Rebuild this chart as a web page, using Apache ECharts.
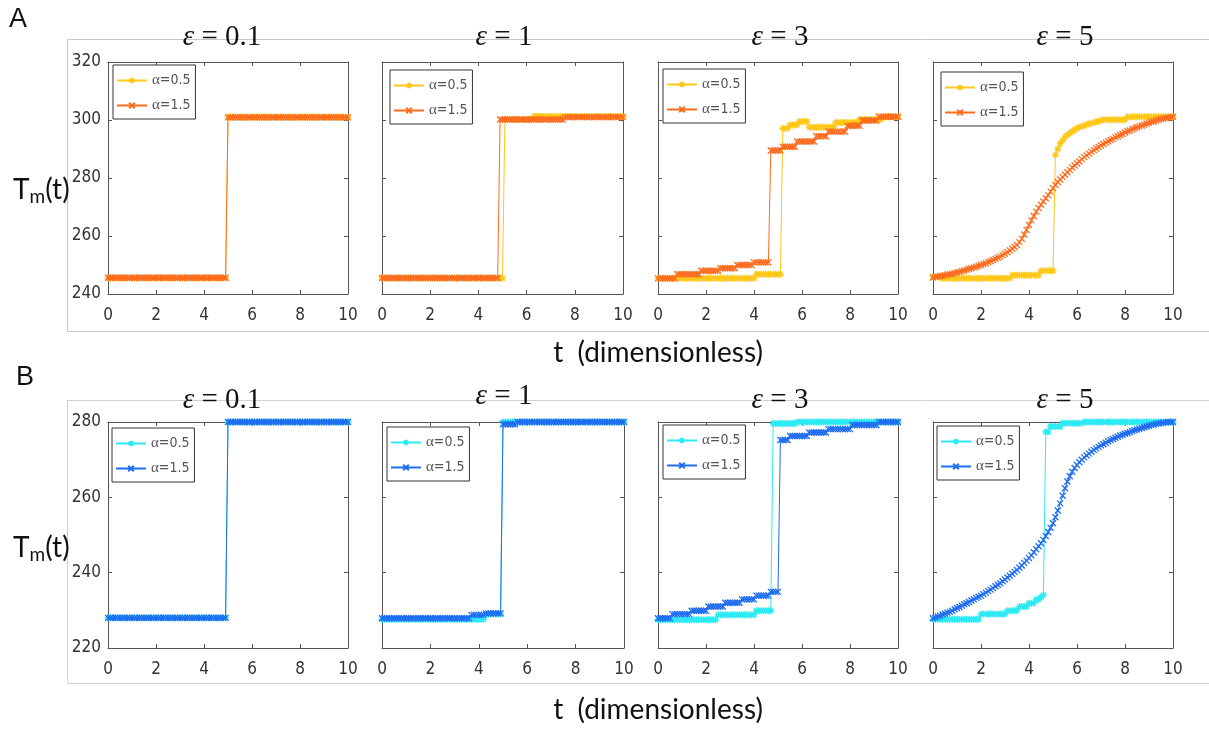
<!DOCTYPE html>
<html><head><meta charset="utf-8">
<script src="https://cdn.jsdelivr.net/npm/echarts@6/dist/echarts.min.js"></script>
<style>html,body{margin:0;padding:0;background:#fff}#c{width:1209px;height:730px}</style>
</head><body><div id="c"></div>
<script>
// time samples (dimensionless t)
const t = [
0,0.1,0.2,0.3,0.4,0.5,0.6,0.7,0.8,0.9,
1,1.1,1.2,1.3,1.4,1.5,1.6,1.7,1.8,1.9,
2,2.1,2.2,2.3,2.4,2.5,2.6,2.7,2.8,2.9,
3,3.1,3.2,3.3,3.4,3.5,3.6,3.7,3.8,3.9,
4,4.1,4.2,4.3,4.4,4.5,4.6,4.7,4.8,4.9,
5,5.1,5.2,5.3,5.4,5.5,5.6,5.7,5.8,5.9,
6,6.1,6.2,6.3,6.4,6.5,6.6,6.7,6.8,6.9,
7,7.1,7.2,7.3,7.4,7.5,7.6,7.7,7.8,7.9,
8,8.1,8.2,8.3,8.4,8.5,8.6,8.7,8.8,8.9,
9,9.1,9.2,9.3,9.4,9.5,9.6,9.7,9.8,9.9,
10];

const epsilons = ['0.1','1','3','5'];
const alphas = ['0.5','1.5'];
const xTicks = [0,2,4,6,8,10];
const yTicksA = [240,260,280,300,320];
const yTicksB = [220,240,260,280];

// ---------- Row A ----------
const A1_a05 = [
245.5,245.5,245.5,245.5,245.5,245.5,245.5,245.5,245.5,245.5,
245.5,245.5,245.5,245.5,245.5,245.5,245.5,245.5,245.5,245.5,
245.5,245.5,245.5,245.5,245.5,245.5,245.5,245.5,245.5,245.5,
245.5,245.5,245.5,245.5,245.5,245.5,245.5,245.5,245.5,245.5,
245.5,245.5,245.5,245.5,245.5,245.5,245.5,245.5,245.5,245.5,
301,301,301,301,301,301,301,301,301,301,
301,301,301,301,301,301,301,301,301,301,
301,301,301,301,301,301,301,301,301,301,
301,301,301,301,301,301,301,301,301,301,
301,301,301,301,301,301,301,301,301,301,
301];
const A1_a15 = [
245.6,245.6,245.6,245.6,245.6,245.6,245.6,245.6,245.6,245.6,
245.6,245.6,245.6,245.6,245.6,245.6,245.6,245.6,245.6,245.6,
245.6,245.6,245.6,245.6,245.6,245.6,245.6,245.6,245.6,245.6,
245.6,245.6,245.6,245.6,245.6,245.6,245.6,245.6,245.6,245.6,
245.6,245.6,245.6,245.6,245.6,245.6,245.6,245.6,245.6,245.6,
300.9,300.9,300.9,300.9,300.9,300.9,300.9,300.9,300.9,300.9,
300.9,300.9,300.9,300.9,300.9,300.9,300.9,300.9,300.9,300.9,
300.9,300.9,300.9,300.9,300.9,300.9,300.9,300.9,300.9,300.9,
300.9,300.9,300.9,300.9,300.9,300.9,300.9,300.9,300.9,300.9,
300.9,300.9,300.9,300.9,300.9,300.9,300.9,300.9,300.9,300.9,
300.9];
const A2_a05 = [
245.5,245.5,245.5,245.5,245.5,245.5,245.5,245.5,245.5,245.5,
245.5,245.5,245.5,245.5,245.5,245.5,245.5,245.5,245.5,245.5,
245.5,245.5,245.5,245.5,245.5,245.5,245.5,245.5,245.5,245.5,
245.5,245.5,245.5,245.5,245.5,245.5,245.5,245.5,245.5,245.5,
245.5,245.5,245.5,245.5,245.5,245.5,245.5,245.5,245.5,245.5,
245.5,300.2,300.2,300.2,300.2,300.2,300.2,300.2,300.2,300.2,
300.2,300.2,300.2,301.2,301.2,301.2,301.2,301.2,301.2,301.2,
301.2,301.2,301.2,301.2,301.2,301.2,301.2,301.2,301.2,301.2,
301.2,301.2,301.2,301.2,301.2,301.2,301.2,301.2,301.2,301.2,
301.2,301.2,301.2,301.2,301.2,301.2,301.2,301.2,301.2,301.2,
301.2];
const A2_a15 = [
245.5,245.5,245.5,245.5,245.5,245.5,245.5,245.5,245.5,245.5,
245.5,245.5,245.5,245.5,245.5,245.5,245.5,245.5,245.5,245.5,
245.5,245.5,245.5,245.5,245.5,245.5,245.5,245.5,245.5,245.5,
245.5,245.5,245.5,245.5,245.5,245.5,245.5,245.5,245.5,245.5,
245.5,245.5,245.5,245.5,245.5,245.5,245.5,245.5,245.5,300.2,
300.2,300.2,300.2,300.2,300.2,300.2,300.2,300.2,300.2,300.2,
300.2,300.2,300.2,300.2,300.2,300.2,300.2,300.2,300.2,300.2,
300.2,300.2,300.2,300.2,300.2,300.2,301.0,301.0,301.0,301.0,
301.0,301.0,301.0,301.0,301.0,301.0,301.0,301.0,301.0,301.0,
301.0,301.0,301.0,301.0,301.0,301.0,301.0,301.0,301.0,301.0,
301.0];
const A3_a05 = [
245.4,245.4,245.4,245.4,245.4,245.4,245.4,245.4,245.4,245.4,
245.4,245.4,245.4,245.4,245.4,245.4,245.4,245.4,245.4,245.4,
245.4,245.4,245.4,245.4,245.4,245.4,245.4,245.4,245.4,245.4,
245.4,245.4,245.4,245.4,245.4,245.4,245.4,245.4,245.4,245.4,
245.4,246.8,246.8,246.8,246.8,246.8,246.8,246.8,246.8,246.8,
246.8,246.8,297.1,297.1,297.1,298.3,298.3,298.3,298.3,299.5,
299.5,299.5,299.5,297.5,297.5,297.5,297.5,297.5,297.5,297.5,
297.5,297.5,297.5,297.5,299.1,299.1,299.1,299.1,299.1,299.1,
299.1,299.1,299.1,299.1,300.2,300.2,300.2,300.2,300.2,300.2,
300.2,300.2,300.2,300.2,301.1,301.1,301.1,301.1,301.1,301.1,
301.1];
const A3_a15 = [
245.4,245.4,245.4,245.4,245.4,245.4,245.4,245.4,246.8,246.8,
246.8,246.8,246.8,246.8,246.8,246.8,246.8,246.8,248.0,248.0,
248.0,248.0,248.0,248.0,248.0,248.0,248.9,248.9,248.9,248.9,
248.9,248.9,248.9,250.0,250.0,250.0,250.0,250.0,250.0,250.0,
250.9,250.9,250.9,250.9,250.9,250.9,250.9,289.5,289.5,289.5,
289.5,289.5,290.8,290.8,290.8,290.8,290.8,290.8,292.6,292.6,
292.6,292.6,292.6,292.6,292.6,292.6,294.4,294.4,294.4,294.4,
294.4,296.0,296.0,296.0,296.0,296.0,296.0,296.0,296.0,298.0,
298.0,298.0,298.0,298.0,298.0,299.8,299.8,299.8,299.8,299.8,
299.8,299.8,301.1,301.1,301.1,301.1,301.1,301.1,301.1,301.1,
301.1];
const A4_a05 = [
245.9,245.9,245.9,245.9,245.4,245.4,245.4,245.4,245.4,245.4,
245.4,245.4,245.4,245.4,245.4,245.4,245.4,245.4,245.4,245.4,
245.4,245.4,245.4,245.4,245.4,245.4,245.4,245.4,245.4,245.4,
245.4,245.4,245.4,246.5,246.5,246.5,246.5,246.5,246.5,246.5,
246.5,246.5,246.5,246.5,246.5,248.0,248.0,248.0,248.0,248.0,
248.0,287.9,290.0,291.9,293.0,294.2,294.8,295.5,296.1,296.6,
297.1,297.5,297.8,298.1,298.4,298.7,298.9,299.1,299.4,299.6,
299.8,300.1,300.1,300.1,300.1,300.1,300.1,300.1,300.1,300.1,
300.1,301.1,301.1,301.1,301.1,301.1,301.1,301.1,301.1,301.1,
301.1,301.1,301.1,301.1,301.1,301.1,301.1,301.1,301.1,301.1,
301.1];
const A4_a15 = [
245.7,245.9,246.0,246.2,246.3,246.5,246.7,246.8,247.0,247.2,
247.4,247.6,247.9,248.1,248.4,248.6,248.9,249.1,249.4,249.7,
250.0,250.3,250.6,251.0,251.3,251.7,252.1,252.5,252.9,253.4,
253.9,254.4,255.0,255.6,256.2,256.9,257.9,259.0,260.5,262.1,
263.8,265.4,266.9,268.4,269.6,270.8,271.9,273.0,274.1,275.3,
276.5,277.6,278.6,279.5,280.3,281.1,282.0,282.8,283.6,284.3,
285.0,285.7,286.5,287.2,287.8,288.4,289.0,289.6,290.2,290.7,
291.2,291.7,292.2,292.7,293.1,293.5,294.0,294.4,294.8,295.2,
295.7,296.1,296.4,296.8,297.1,297.5,297.8,298.1,298.4,298.7,
299.0,299.3,299.5,299.8,300.1,300.3,300.5,300.7,300.8,301.0,
301.1];

// ---------- Row B ----------
const B1_a05 = [
228,228,228,228,228,228,228,228,228,228,
228,228,228,228,228,228,228,228,228,228,
228,228,228,228,228,228,228,228,228,228,
228,228,228,228,228,228,228,228,228,228,
228,228,228,228,228,228,228,228,228,228,
280,280,280,280,280,280,280,280,280,280,
280,280,280,280,280,280,280,280,280,280,
280,280,280,280,280,280,280,280,280,280,
280,280,280,280,280,280,280,280,280,280,
280,280,280,280,280,280,280,280,280,280,
280];
const B1_a15 = [
228,228,228,228,228,228,228,228,228,228,
228,228,228,228,228,228,228,228,228,228,
228,228,228,228,228,228,228,228,228,228,
228,228,228,228,228,228,228,228,228,228,
228,228,228,228,228,228,228,228,228,228,
280,280,280,280,280,280,280,280,280,280,
280,280,280,280,280,280,280,280,280,280,
280,280,280,280,280,280,280,280,280,280,
280,280,280,280,280,280,280,280,280,280,
280,280,280,280,280,280,280,280,280,280,
280];
const B2_a05 = [
227.6,227.6,227.6,227.6,227.6,227.6,227.6,227.6,227.6,227.6,
227.6,227.6,227.6,227.6,227.6,227.6,227.6,227.6,227.6,227.6,
227.6,227.6,227.6,227.6,227.6,227.6,227.6,227.6,227.6,227.6,
227.6,227.6,227.6,227.6,227.6,227.6,227.6,227.6,227.6,227.6,
227.6,227.6,227.6,229.0,229.0,229.0,229.0,229.0,229.0,229.0,
280,280,280,280,280,280,280,280,280,280,
280,280,280,280,280,280,280,280,280,280,
280,280,280,280,280,280,280,280,280,280,
280,280,280,280,280,280,280,280,280,280,
280,280,280,280,280,280,280,280,280,280,
280];
const B2_a15 = [
227.9,227.9,227.9,227.9,227.9,227.9,227.9,227.9,227.9,227.9,
227.9,227.9,227.9,227.9,227.9,227.9,227.9,227.9,227.9,227.9,
227.9,227.9,227.9,227.9,227.9,227.9,227.9,227.9,227.9,227.9,
227.9,227.9,227.9,227.9,227.9,227.9,227.9,228.8,228.8,228.8,
228.8,228.8,228.8,229.2,229.2,229.2,229.2,229.2,229.2,229.2,
279.4,279.4,279.4,279.4,279.4,279.4,280,280,280,280,
280,280,280,280,280,280,280,280,280,280,
280,280,280,280,280,280,280,280,280,280,
280,280,280,280,280,280,280,280,280,280,
280,280,280,280,280,280,280,280,280,280,
280];
const B3_a05 = [
227.5,227.5,227.5,227.5,227.5,227.5,227.5,227.5,227.5,227.5,
227.5,227.5,227.5,227.5,227.5,227.5,227.5,227.5,227.5,227.5,
227.5,227.5,227.5,227.5,227.5,228.8,228.8,228.8,228.8,228.8,
228.8,228.8,228.8,228.8,228.8,228.8,228.8,228.8,228.8,228.8,
228.8,229.9,229.9,229.9,229.9,229.9,229.9,229.9,279.6,279.6,
279.6,279.6,279.6,279.6,279.6,279.6,279.6,279.6,280,280,
280,280,280,280,280,280,280,280,280,280,
280,280,280,280,280,280,280,280,280,280,
280,280,280,280,280,280,280,280,280,280,
280,280,280,280,280,280,280,280,280,280,
280];
const B3_a15 = [
227.9,227.9,227.9,227.9,227.9,227.9,229.0,229.0,229.0,229.0,
229.0,229.0,229.0,229.0,229.9,229.9,229.9,229.9,229.9,229.9,
229.9,231.0,231.0,231.0,231.0,231.0,231.0,231.0,232.0,232.0,
232.0,232.0,232.0,232.0,232.0,232.9,232.9,232.9,232.9,232.9,
232.9,233.9,233.9,233.9,233.9,233.9,233.9,234.9,234.9,234.9,
234.9,275.2,275.2,275.2,275.2,276.3,276.3,276.3,276.3,276.3,
276.3,276.3,276.3,277.2,277.2,277.2,277.2,277.2,277.2,277.2,
277.2,278.1,278.1,278.1,278.1,278.1,278.1,278.1,278.1,278.1,
278.1,279.2,279.2,279.2,279.2,279.2,279.2,279.2,279.2,279.2,
279.2,279.2,280,280,280,280,280,280,280,280,
280];
const B4_a05 = [
227.6,227.6,227.6,227.6,227.6,227.6,227.6,227.6,227.6,227.6,
227.6,227.6,227.6,227.6,227.6,227.6,227.6,227.6,227.6,227.6,
229.0,229.0,229.0,229.0,229.0,229.0,229.0,229.0,229.0,229.0,
229.0,229.9,229.9,229.9,229.9,229.9,231.0,231.0,231.0,231.0,
231.9,231.9,231.9,232.9,232.9,233.5,234.1,277.4,277.4,278.8,
278.8,278.8,278.8,278.8,279.7,279.7,279.7,279.7,279.7,279.7,
279.7,279.7,279.7,280,280,280,280,280,280,280,
280,280,280,280,280,280,280,280,280,280,
280,280,280,280,280,280,280,280,280,280,
280,280,280,280,280,280,280,280,280,280,
280];
const B4_a15 = [
227.9,228.1,228.4,228.6,228.9,229.1,229.4,229.6,229.9,230.3,
230.6,230.9,231.2,231.6,231.9,232.2,232.6,232.9,233.3,233.6,
233.9,234.3,234.7,235.1,235.5,235.9,236.4,236.8,237.2,237.7,
238.2,238.7,239.2,239.7,240.2,240.7,241.3,241.9,242.6,243.2,
243.9,244.6,245.4,246.2,247.0,247.8,248.7,249.7,250.8,251.9,
253.1,254.7,256.5,258.4,260.4,262.4,264.2,265.6,266.8,267.8,
268.6,269.3,270.0,270.6,271.1,271.6,272.1,272.6,273.0,273.4,
273.8,274.1,274.5,274.9,275.2,275.5,275.8,276.1,276.4,276.6,
276.9,277.1,277.3,277.6,277.8,278.0,278.2,278.4,278.6,278.8,
279.0,279.2,279.3,279.5,279.6,279.7,279.8,279.9,280.0,280.0,
280.0];

const YEL = '#FFC81A', ORG = '#FF6B1E', CYA = '#2DEAF4', BLU = '#1F6CF0';
const STAR = 'path://M5,0L5,10M0,5L10,5M1.5,1.5L8.5,8.5M1.5,8.5L8.5,1.5';
const CROSS = 'path://M1,1L9,9M1,9L9,1';
const NARROW = "'Liberation Sans Narrow','Arial Narrow','DejaVu Sans Condensed',sans-serif";
const AXC = '#555555', LBC = '#333333';

const panels = [
  {g:[108,62,240,232], y:yTicksA, s:[A1_a05,A1_a15], c:[YEL,ORG], lg:[113,65], ti:[222,37], lab:true},
  {g:[382,62,241,232], y:yTicksA, s:[A2_a05,A2_a15], c:[YEL,ORG], lg:[390,70], ti:[504,37], lab:false},
  {g:[658,62,240,232], y:yTicksA, s:[A3_a05,A3_a15], c:[YEL,ORG], lg:[663,69], ti:[780,37], lab:false},
  {g:[933,62,240,232], y:yTicksA, s:[A4_a05,A4_a15], c:[YEL,ORG], lg:[941,72], ti:[1065,37], lab:false},
  {g:[108,422,240,226], y:yTicksB, s:[B1_a05,B1_a15], c:[CYA,BLU], lg:[112,428], ti:[222,400], lab:true},
  {g:[382,422,242,226], y:yTicksB, s:[B2_a05,B2_a15], c:[CYA,BLU], lg:[387,427], ti:[504,396], lab:false},
  {g:[658,422,240,226], y:yTicksB, s:[B3_a05,B3_a15], c:[CYA,BLU], lg:[663,425], ti:[780,400], lab:false},
  {g:[933,422,240,226], y:yTicksB, s:[B4_a05,B4_a15], c:[CYA,BLU], lg:[937,426], ti:[1065,400], lab:false}
];

const grid = [], xAxis = [], yAxis = [], series = [], legend = [], graphic = [];

graphic.push({type:'rect', shape:{x:67.5,y:39.5,width:1160,height:292}, style:{fill:'none',stroke:'#c8c8c8',lineWidth:1}, z:-10});
graphic.push({type:'rect', shape:{x:67.5,y:400.5,width:1160,height:283}, style:{fill:'none',stroke:'#d0d0d0',lineWidth:1}, z:-10});

panels.forEach((p, i) => {
  grid.push({left:p.g[0], top:p.g[1], width:p.g[2], height:p.g[3], containLabel:false});
  const ymin = p.y[0], ymax = p.y[p.y.length-1];
  const common = {axisLine:{show:true,onZero:false,lineStyle:{color:AXC,width:1}}, axisTick:{show:true,inside:true,length:4,lineStyle:{color:AXC}}, splitLine:{show:false}};
  xAxis.push(Object.assign({type:'value', gridIndex:i, min:xTicks[0], max:xTicks[xTicks.length-1], interval:2, position:'bottom',
    axisLabel:{show:true, margin:13, fontSize:17, fontFamily:NARROW, color:LBC}}, common));
  xAxis.push(Object.assign({type:'value', gridIndex:i, min:xTicks[0], max:xTicks[xTicks.length-1], interval:2, position:'top',
    axisLabel:{show:false}}, common));
  yAxis.push(Object.assign({type:'value', gridIndex:i, min:ymin, max:ymax, interval:20, position:'left',
    axisLabel:{show:p.lab, margin:7, fontSize:17, fontFamily:NARROW, color:LBC}}, common));
  yAxis.push(Object.assign({type:'value', gridIndex:i, min:ymin, max:ymax, interval:20, position:'right',
    axisLabel:{show:false}}, common));
  const names = [];
  p.s.forEach((arr, k) => {
    const name = 'p' + i + '_' + k;
    names.push(name);
    series.push({
      type:'line', name:name, xAxisIndex:2*i, yAxisIndex:2*i,
      data: t.map((x, j) => [x, arr[j]]),
      symbol: k === 0 ? STAR : CROSS, symbolSize: k === 0 ? 7 : 6, symbolKeepAspect:true, showSymbol:true,
      lineStyle:{width:1, color:p.c[k]},
      itemStyle:{color:p.c[k], borderColor:p.c[k], borderWidth:1.3},
      clip:false, animation:false, z: 2 + k, emphasis:{disabled:true}, silent:true
    });
  });
  legend.push({
    left:p.lg[0], top:p.lg[1], orient:'vertical', data:names, selectedMode:false,
    formatter: n => '{g|\u03b1}{n|=' + alphas[+n.split('_')[1]] + '}',
    itemWidth:30, itemHeight:7, itemGap:10, padding:[8,5,6,3],
    borderColor:'#333', borderWidth:1, backgroundColor:'#fff',
    textStyle:{rich:{g:{fontFamily:"'Liberation Serif','DejaVu Serif',serif", fontSize:15, color:'#555', lineHeight:15},
                     n:{fontFamily:NARROW, fontSize:14, color:'#555', lineHeight:15}}}
  });
  graphic.push({type:'text', x:p.ti[0], y:p.ti[1], z:50,
    style:{text:'{e|\u03b5} = ' + epsilons[i % 4], align:'center', verticalAlign:'middle',
      fontSize:29, fontFamily:"'Liberation Serif','DejaVu Serif',serif", fill:'#111',
      rich:{e:{fontSize:29, fontStyle:'italic', fontFamily:"'Liberation Serif','DejaVu Serif',serif", fill:'#111'}}}});
});

// row labels and axis names
const rowInfo = [{letter:'A', lx:9, ly:20, ty:190, xt:353}, {letter:'B', lx:16, ly:378, ty:548, xt:710}];
rowInfo.forEach(r => {
  graphic.push({type:'text', x:r.lx, y:r.ly, style:{text:r.letter, fontSize:27, fontFamily:"'Liberation Sans',Arial,sans-serif", fill:'#111', verticalAlign:'middle'}});
  graphic.push({type:'text', x:13, y:r.ty, style:{text:'{a|T}{b|m}{a|(t)}', verticalAlign:'middle', fill:'#111',
    rich:{a:{fontSize:28, fontFamily:"Lato,'Open Sans',sans-serif", fill:'#111'},
          b:{fontSize:19, fontFamily:"Lato,'Open Sans',sans-serif", fill:'#111', padding:[13,0,0,0]}}}});
  graphic.push({type:'text', x:658, y:r.xt, style:{text:'t  (dimensionless)', align:'center', verticalAlign:'middle', fontSize:28, fontFamily:"Lato,'Open Sans',sans-serif", fill:'#111'}});
});

const chart = echarts.init(document.getElementById('c'), null, {renderer:'canvas'});
chart.setOption({backgroundColor:'#fff', animation:false, grid, xAxis, yAxis, series, legend, graphic});
</script></body></html>
